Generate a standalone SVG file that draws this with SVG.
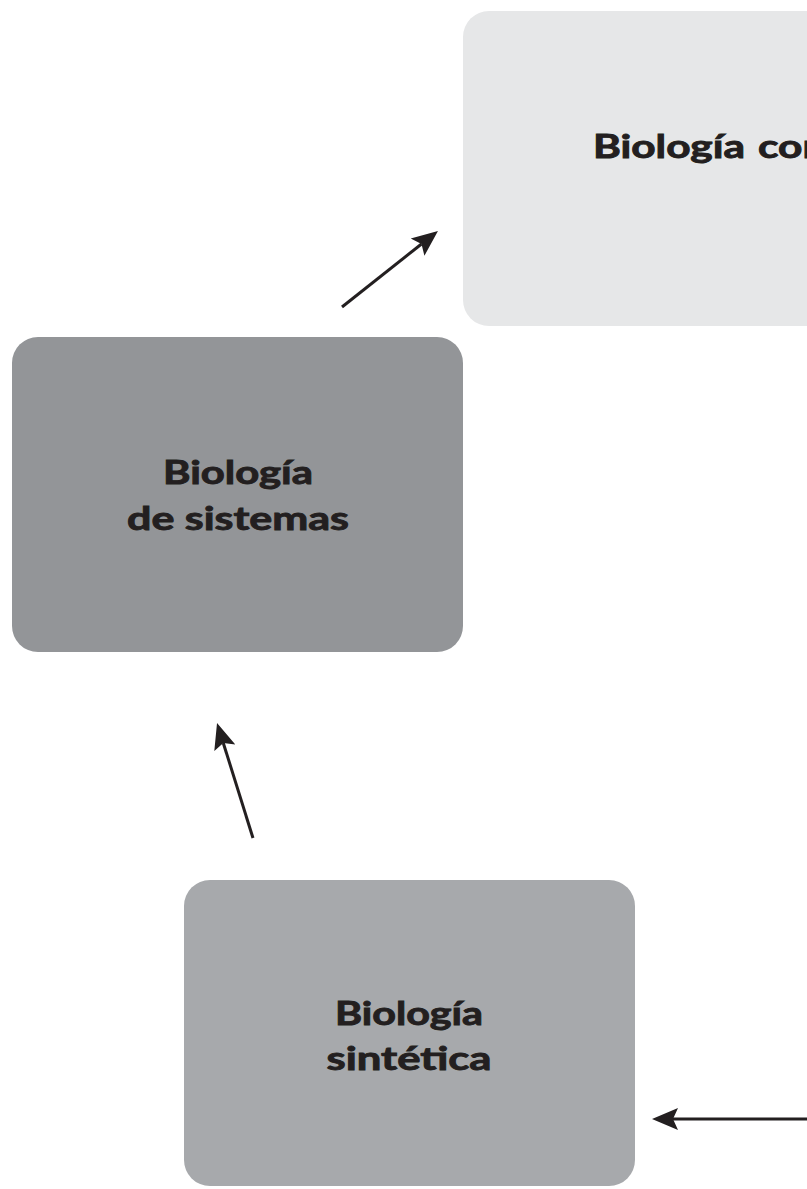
<svg xmlns="http://www.w3.org/2000/svg" width="807" height="1189" viewBox="0 0 807 1189">
<style>
.lbl{font-family:"Lato","Open Sans",sans-serif;font-weight:700;font-size:32px;fill:#231f20;stroke:#231f20;stroke-width:0.9;text-anchor:middle}
.conn{stroke:#231f20;stroke-width:3;fill:none}
</style>
<defs>
<marker id="ah" markerUnits="userSpaceOnUse" viewBox="0 0 26 24" markerWidth="26" markerHeight="24" refX="5" refY="12" orient="auto">
<path d="M0,1 L26,12 L0,23 L5,12 Z" fill="#231f20"/>
</marker>
</defs>
<rect width="807" height="1189" fill="#ffffff"/>
<g id="node-computacional">
<rect x="463" y="11" width="380" height="315" rx="26" fill="#e6e7e8"/>
<text class="lbl" y="158" style="text-anchor:start"><tspan x="593" textLength="152" lengthAdjust="spacingAndGlyphs">Biología</tspan><tspan x="758" textLength="80" lengthAdjust="spacingAndGlyphs">com</tspan></text>
</g>
<g id="node-sistemas">
<rect x="12" y="337" width="451" height="315" rx="26" fill="#939598"/>
<text class="lbl" x="238" y="484" textLength="150" lengthAdjust="spacingAndGlyphs">Biología</text>
<text class="lbl" x="238" y="530" textLength="222" lengthAdjust="spacingAndGlyphs">de sistemas</text>
</g>
<g id="node-sintetica">
<rect x="184" y="880" width="451" height="306" rx="26" fill="#a7a9ac"/>
<text class="lbl" x="409" y="1025" textLength="148" lengthAdjust="spacingAndGlyphs">Biología</text>
<text class="lbl" x="409" y="1070" textLength="165" lengthAdjust="spacingAndGlyphs">sintética</text>
</g>
<g id="connectors">
<line class="conn" x1="342" y1="307" x2="421.5" y2="244" marker-end="url(#ah)"/>
<line class="conn" x1="253" y1="838" x2="223.3" y2="743" marker-end="url(#ah)"/>
<line class="conn" x1="807" y1="1119" x2="673" y2="1119" marker-end="url(#ah)"/>
</g>
</svg>
